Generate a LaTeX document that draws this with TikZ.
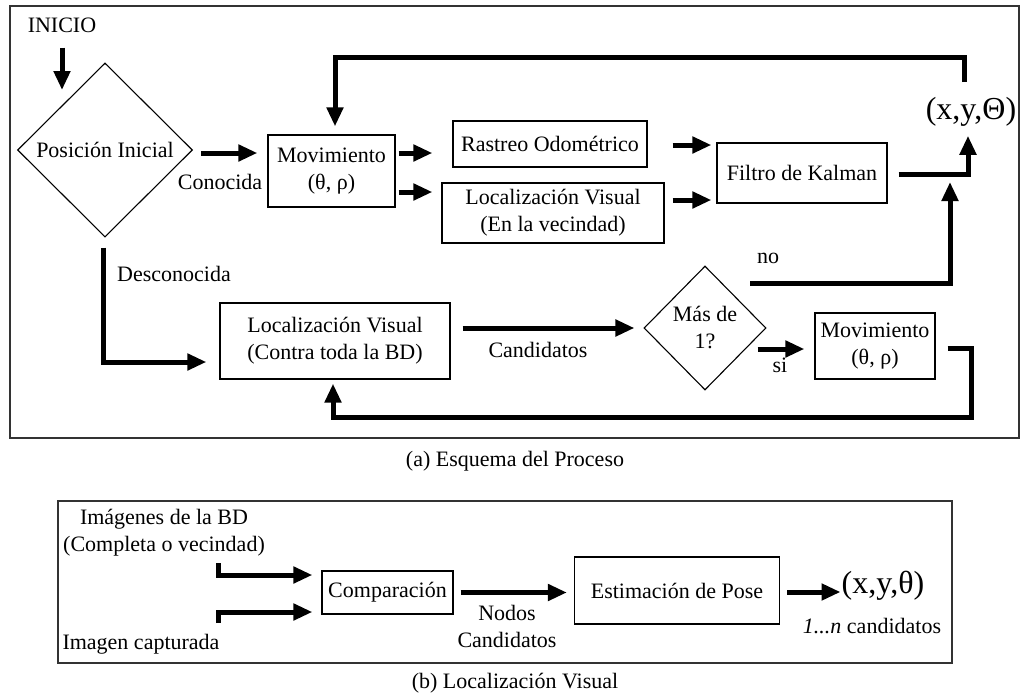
\documentclass[tikz,border=0pt]{standalone}
\usepackage{fontspec}
\setmainfont{Liberation Serif}
\usetikzlibrary{arrows.meta,shapes.geometric}
\begin{document}
\begin{tikzpicture}[x=1pt,y=-1pt,
  every node/.style={font=\fontsize{22}{27}\selectfont, align=center, inner sep=0pt},
  box/.style={draw, line width=1.2pt},
  dec/.style={draw, diamond, line width=1.1pt, inner sep=0pt},
  frame/.style={draw=black!80, line width=1.8pt},
  arr/.style={line width=5pt, -{Triangle[length=19pt,width=16pt]}},
  bigtxt/.style={font=\fontsize{32}{36}\selectfont}
]
\useasboundingbox[fill=white] (0,0) rectangle (1029,694);

% ---------- (a) process scheme ----------
\draw[frame] (10,6) rectangle (1019,438);
\node (capa) at (515,461) {(a) Esquema del Proceso};

\node (inicio) at (62,25) {INICIO};
\node[dec, minimum width=175pt, minimum height=174pt] (pos) at (105,150) {Posición Inicial};
\node[box, minimum width=127pt, minimum height=72pt] (mov1) at (331.5,171) {Movimiento\\(θ, ρ)};
\node[box, minimum width=194pt, minimum height=46pt] (rast) at (550,144) {Rastreo Odométrico};
\node[box, minimum width=222pt, minimum height=60pt] (locv) at (553,213) {Localización Visual\\(En la vecindad)};
\node[box, minimum width=170pt, minimum height=60pt] (kal) at (802,173) {Filtro de Kalman};
\node[bigtxt] (out) at (971,112) {(x,y,Θ)};
\node[box, minimum width=230pt, minimum height=76pt] (locbd) at (335,341) {Localización Visual\\(Contra toda la BD)};
\node[dec, minimum width=122pt, minimum height=124pt] (mas) at (705,328) {Más de\\1?};
\node[box, minimum width=120pt, minimum height=66pt] (mov2) at (875,346) {Movimiento\\(θ, ρ)};

% edge labels
\node (conoc) at (220,182) {Conocida};
\node (desc) at (174,274) {Desconocida};
\node (cand) at (538,350) {Candidatos};
\node (no) at (768,258) {no};
\node (si) at (780,365) {si};

% free ends and corners
\coordinate (iniend) at (62,90);
\coordinate (topc) at (964,57);
\coordinate (noend) at (950,182);
\coordinate (botc) at (971,417);

% connectors
\draw[arr, shorten <=15pt] (inicio.south -| iniend) -- (iniend);
\draw[arr, shorten <=8pt, shorten >=10pt] ([yshift=-3pt]pos.east) -- ([yshift=-3pt]pos.east -| mov1.west);
\draw[arr, shorten <=3pt, shorten >=20pt] ([yshift=18pt]mov1.east) -- ([yshift=18pt]mov1.east -| rast.west);
\draw[arr, shorten <=3pt, shorten >=9pt] ([yshift=-21pt]mov1.east) -- ([yshift=-21pt]mov1.east -| locv.west);
\draw[arr, shorten <=25pt, shorten >=5pt] ([yshift=28pt]kal.west -| rast.east) -- ([yshift=28pt]kal.west);
\draw[arr, shorten <=8pt, shorten >=5pt] ([yshift=-27pt]kal.west -| locv.east) -- ([yshift=-27pt]kal.west);
\draw[arr, shorten <=11pt, shorten >=9pt] ([yshift=-1pt]kal.east) -| ([xshift=-3pt]out.south);
\draw[arr, shorten >=8pt] ([xshift=-7pt,yshift=15pt]out.north) -- (topc) -| ([xshift=3.5pt]mov1.north);
\draw[arr, shorten <=10pt, shorten >=13pt] ([xshift=-2pt]pos.south) |- ([yshift=-21pt]locbd.west);
\draw[arr, shorten <=12pt, shorten >=9pt] (locbd.east |- mas.west) -- (mas.west);
\draw[arr] ([shift={(45pt,45pt)}]mas.center) -| (noend);
\draw[arr, shorten >=10pt] ([shift={(-9pt,-21pt)}]mas.east) -- ([yshift=-21pt]mas.east -| mov2.west);
\draw[arr, shorten <=12pt, shorten >=4pt] ([yshift=-2pt]mov2.east) -| (botc) -| ([xshift=-2pt]locbd.south);

% ---------- (b) visual localisation ----------
\draw[frame] (58,501) rectangle (952,663);
\node (capb) at (515,683) {(b) Localización Visual};

\node (imgbd) at (164,533) {Imágenes de la BD\\(Completa o vecindad)};
\node (imgcap) at (141,644) {Imagen capturada};
\node[box, minimum width=131pt, minimum height=43pt] (comp) at (387.5,592.5) {Comparación};
\node[box, minimum width=205pt, minimum height=67pt] (est) at (677,590.5) {Estimación de Pose};
\node[bigtxt] (pose) at (883,586) {(x,y,θ)};
\node (ncand) at (507,626) {Nodos\\Candidatos};
\node (ncount) at (872,626) {\itshape 1...n\upshape{} candidatos};

\coordinate (bdstart) at (218,563);
\coordinate (capstart) at (218,623);

\draw[arr, shorten >=9pt] (bdstart) |- ([yshift=17.5pt]comp.west);
\draw[arr, shorten >=9pt] (capstart) |- ([yshift=-19.5pt]comp.west);
\draw[arr, shorten <=7pt, shorten >=7pt] (comp.east) -- (comp.east -| est.west);
\draw[arr, shorten <=7pt, shorten >=1pt] ([yshift=-1.5pt]est.east) -- ([yshift=-1.5pt]est.east -| pose.west);
\end{tikzpicture}
\end{document}
